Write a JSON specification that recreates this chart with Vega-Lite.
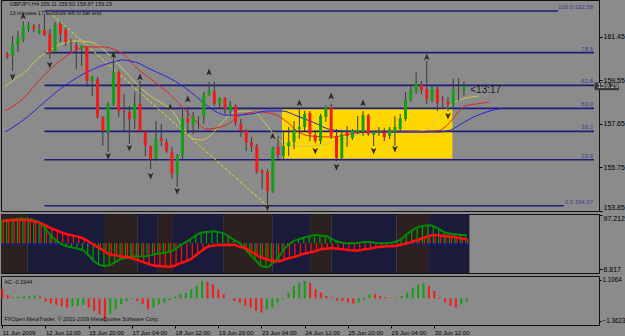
{
"$schema":"https://vega.github.io/schema/vega-lite/v6.json",
"background":"#8b8b8b",
"padding":{"left":-4,"top":-1,"right":0,"bottom":0},
"spacing":1,
"resolve":{"scale":{"color":"independent","shape":"independent"}},
"config":{"font":"Liberation Sans","view":{"stroke":"#101010","strokeWidth":1},
"axis":{"grid":false,"domain":false,"ticks":true,"tickColor":"#000","tickSize":3,"labelColor":"#000","labelFont":"Liberation Sans","labelFontSize":7,"labelPadding":1,"labelFlush":false,"labelOverlap":false,"labelBound":false}},
"datasets":{
"candles":[
{"i":0,"o":160.70,"h":160.79,"l":160.48,"c":160.57},
{"i":1,"o":160.61,"h":161.49,"l":159.96,"c":161.14},
{"i":2,"o":161.09,"h":161.71,"l":160.79,"c":161.44},
{"i":3,"o":161.36,"h":162.14,"l":161.22,"c":161.92},
{"i":4,"o":161.79,"h":162.10,"l":161.66,"c":161.97},
{"i":5,"o":161.92,"h":162.01,"l":161.66,"c":161.79},
{"i":6,"o":161.62,"h":162.01,"l":161.57,"c":161.75},
{"i":7,"o":161.75,"h":162.45,"l":161.49,"c":161.53},
{"i":8,"o":161.57,"h":161.79,"l":160.48,"c":160.74},
{"i":9,"o":160.79,"h":162.10,"l":160.70,"c":161.97},
{"i":10,"o":162.01,"h":162.10,"l":161.22,"c":161.57},
{"i":11,"o":161.75,"h":161.88,"l":161.05,"c":161.22},
{"i":12,"o":161.22,"h":161.36,"l":160.79,"c":161.18},
{"i":13,"o":161.09,"h":161.22,"l":160.04,"c":160.92},
{"i":14,"o":160.92,"h":161.09,"l":160.18,"c":161.05},
{"i":15,"o":161.01,"h":161.05,"l":159.26,"c":159.52},
{"i":16,"o":159.52,"h":159.74,"l":158.86,"c":159.70},
{"i":17,"o":159.61,"h":159.70,"l":157.86,"c":157.95},
{"i":18,"o":157.95,"h":157.99,"l":156.68,"c":157.34},
{"i":19,"o":157.29,"h":158.60,"l":156.42,"c":158.52},
{"i":20,"o":158.52,"h":160.79,"l":158.43,"c":159.91},
{"i":21,"o":159.91,"h":160.00,"l":157.95,"c":158.21},
{"i":22,"o":158.21,"h":158.95,"l":157.34,"c":158.17},
{"i":23,"o":158.17,"h":158.43,"l":156.77,"c":157.86},
{"i":24,"o":157.86,"h":159.04,"l":157.42,"c":158.52},
{"i":25,"o":158.52,"h":159.52,"l":157.29,"c":157.34},
{"i":26,"o":157.29,"h":157.34,"l":156.24,"c":156.68},
{"i":27,"o":156.68,"h":156.70,"l":155.67,"c":156.11},
{"i":28,"o":156.11,"h":157.77,"l":156.02,"c":157.03},
{"i":29,"o":157.03,"h":157.64,"l":156.68,"c":156.90},
{"i":30,"o":156.85,"h":156.99,"l":156.37,"c":156.46},
{"i":31,"o":156.42,"h":156.64,"l":155.24,"c":155.46},
{"i":32,"o":155.46,"h":156.33,"l":154.89,"c":156.24},
{"i":33,"o":156.24,"h":158.30,"l":156.11,"c":157.90},
{"i":34,"o":157.90,"h":158.38,"l":157.20,"c":157.69},
{"i":35,"o":157.60,"h":158.17,"l":157.20,"c":157.95},
{"i":36,"o":157.94,"h":157.99,"l":157.42,"c":157.96},
{"i":37,"o":157.95,"h":159.04,"l":157.64,"c":158.91},
{"i":38,"o":158.91,"h":159.48,"l":158.86,"c":159.13},
{"i":39,"o":159.08,"h":159.48,"l":158.43,"c":158.52},
{"i":40,"o":158.52,"h":158.82,"l":158.30,"c":158.78},
{"i":41,"o":158.78,"h":158.82,"l":158.08,"c":158.30},
{"i":42,"o":158.21,"h":158.65,"l":157.99,"c":158.47},
{"i":43,"o":158.43,"h":158.52,"l":157.55,"c":157.69},
{"i":44,"o":157.64,"h":157.86,"l":157.07,"c":157.34},
{"i":45,"o":157.34,"h":157.42,"l":156.46,"c":156.85},
{"i":46,"o":156.85,"h":157.07,"l":156.42,"c":156.68},
{"i":47,"o":156.68,"h":156.77,"l":155.46,"c":155.54},
{"i":48,"o":155.59,"h":155.67,"l":154.80,"c":155.50},
{"i":49,"o":155.54,"h":155.67,"l":154.06,"c":154.71},
{"i":50,"o":154.71,"h":156.64,"l":154.63,"c":156.59},
{"i":51,"o":156.64,"h":157.12,"l":156.11,"c":156.29},
{"i":52,"o":156.24,"h":157.34,"l":156.11,"c":156.68},
{"i":53,"o":156.68,"h":157.51,"l":156.24,"c":156.85},
{"i":54,"o":156.85,"h":157.77,"l":156.55,"c":157.42},
{"i":55,"o":157.42,"h":158.30,"l":156.99,"c":157.51},
{"i":56,"o":157.51,"h":158.21,"l":157.34,"c":158.08},
{"i":57,"o":158.12,"h":158.21,"l":156.90,"c":157.20},
{"i":58,"o":157.16,"h":157.29,"l":156.81,"c":156.90},
{"i":59,"o":156.90,"h":158.08,"l":156.77,"c":157.99},
{"i":60,"o":157.95,"h":158.43,"l":157.73,"c":158.38},
{"i":61,"o":158.38,"h":158.52,"l":156.99,"c":157.12},
{"i":62,"o":157.12,"h":157.42,"l":156.02,"c":156.15},
{"i":63,"o":156.15,"h":157.34,"l":156.07,"c":157.20},
{"i":64,"o":157.29,"h":157.55,"l":156.64,"c":157.12},
{"i":65,"o":157.03,"h":157.42,"l":156.94,"c":157.34},
{"i":66,"o":157.29,"h":157.99,"l":157.20,"c":157.38},
{"i":67,"o":157.29,"h":158.21,"l":157.12,"c":158.03},
{"i":68,"o":158.03,"h":158.08,"l":157.12,"c":157.20},
{"i":69,"o":157.16,"h":157.34,"l":156.68,"c":157.29},
{"i":70,"o":157.29,"h":157.51,"l":157.12,"c":157.34},
{"i":71,"o":157.25,"h":157.47,"l":156.90,"c":157.07},
{"i":72,"o":157.12,"h":157.51,"l":156.99,"c":157.42},
{"i":73,"o":157.29,"h":157.99,"l":156.68,"c":157.51},
{"i":74,"o":157.42,"h":158.08,"l":157.34,"c":157.90},
{"i":75,"o":157.86,"h":159.04,"l":157.77,"c":158.73},
{"i":76,"o":158.69,"h":159.39,"l":158.60,"c":159.13},
{"i":77,"o":159.08,"h":159.91,"l":158.95,"c":159.43},
{"i":78,"o":159.34,"h":159.52,"l":158.95,"c":159.13},
{"i":79,"o":159.17,"h":160.39,"l":158.52,"c":158.73},
{"i":80,"o":158.69,"h":159.30,"l":158.60,"c":159.21},
{"i":81,"o":159.17,"h":159.26,"l":158.21,"c":158.56},
{"i":82,"o":158.73,"h":158.86,"l":158.38,"c":158.69},
{"i":83,"o":158.60,"h":158.82,"l":158.21,"c":158.47},
{"i":84,"o":158.47,"h":159.61,"l":158.38,"c":159.17},
{"i":85,"o":159.17,"h":159.65,"l":158.65,"c":159.13},
{"i":86,"o":159.11,"h":159.50,"l":158.87,"c":159.29}
],
"ma":[
{"l":"lips","i":-0.4,"p":159.26},{"l":"lips","i":1.4,"p":159.61},{"l":"lips","i":3.3,"p":159.91},{"l":"lips","i":5.7,"p":160.48},{"l":"lips","i":8.3,"p":160.92},{"l":"lips","i":10.7,"p":161.18},{"l":"lips","i":13.1,"p":161.27},{"l":"lips","i":15.7,"p":161.22},{"l":"lips","i":17.5,"p":161.01},{"l":"lips","i":19.4,"p":160.61},{"l":"lips","i":21.2,"p":160.18},{"l":"lips","i":23.1,"p":159.70},{"l":"lips","i":24.9,"p":159.26},{"l":"lips","i":27.0,"p":158.86},{"l":"lips","i":28.8,"p":158.60},{"l":"lips","i":31.1,"p":158.21},{"l":"lips","i":33.3,"p":157.42},{"l":"lips","i":35.1,"p":156.99},{"l":"lips","i":36.6,"p":156.94},{"l":"lips","i":38.5,"p":157.20},{"l":"lips","i":40.7,"p":157.77},{"l":"lips","i":42.5,"p":158.12},{"l":"lips","i":44.9,"p":158.21},{"l":"lips","i":46.8,"p":158.12},{"l":"lips","i":48.7,"p":157.64},{"l":"lips","i":50.5,"p":157.12},{"l":"lips","i":52.4,"p":156.77},{"l":"lips","i":54.6,"p":156.68},{"l":"lips","i":57.0,"p":156.68},{"l":"lips","i":58.8,"p":156.72},{"l":"lips","i":61.2,"p":156.85},{"l":"lips","i":64.4,"p":157.07},{"l":"lips","i":69.4,"p":157.25},{"l":"lips","i":75.9,"p":157.29},{"l":"lips","i":78.8,"p":157.38},{"l":"lips","i":81.4,"p":157.95},{"l":"lips","i":83.5,"p":158.47},{"l":"lips","i":85.7,"p":158.73},{"l":"lips","i":88.8,"p":158.86},
{"l":"teeth","i":-0.4,"p":158.21},{"l":"teeth","i":3.3,"p":158.82},{"l":"teeth","i":5.7,"p":159.48},{"l":"teeth","i":8.8,"p":160.18},{"l":"teeth","i":12.0,"p":160.74},{"l":"teeth","i":14.9,"p":161.01},{"l":"teeth","i":18.1,"p":161.01},{"l":"teeth","i":19.9,"p":160.92},{"l":"teeth","i":21.8,"p":160.70},{"l":"teeth","i":24.6,"p":160.04},{"l":"teeth","i":27.0,"p":159.61},{"l":"teeth","i":30.1,"p":159.04},{"l":"teeth","i":33.3,"p":158.30},{"l":"teeth","i":35.7,"p":157.73},{"l":"teeth","i":37.5,"p":157.42},{"l":"teeth","i":39.4,"p":157.47},{"l":"teeth","i":41.2,"p":157.60},{"l":"teeth","i":44.0,"p":158.03},{"l":"teeth","i":47.2,"p":158.17},{"l":"teeth","i":50.1,"p":158.08},{"l":"teeth","i":52.7,"p":157.73},{"l":"teeth","i":54.6,"p":157.34},{"l":"teeth","i":57.0,"p":157.12},{"l":"teeth","i":61.2,"p":157.07},{"l":"teeth","i":64.4,"p":157.20},{"l":"teeth","i":68.7,"p":157.29},{"l":"teeth","i":77.4,"p":157.29},{"l":"teeth","i":81.1,"p":157.34},{"l":"teeth","i":82.9,"p":157.60},{"l":"teeth","i":84.8,"p":158.12},{"l":"teeth","i":86.2,"p":158.43},{"l":"teeth","i":88.5,"p":158.52},{"l":"teeth","i":90.7,"p":158.60},
{"l":"jaw","i":-0.4,"p":157.29},{"l":"jaw","i":3.3,"p":157.86},{"l":"jaw","i":7.0,"p":158.60},{"l":"jaw","i":10.7,"p":159.30},{"l":"jaw","i":14.4,"p":159.83},{"l":"jaw","i":18.1,"p":160.22},{"l":"jaw","i":19.9,"p":160.35},{"l":"jaw","i":21.8,"p":160.44},{"l":"jaw","i":23.1,"p":160.39},{"l":"jaw","i":24.6,"p":160.31},{"l":"jaw","i":26.4,"p":160.09},{"l":"jaw","i":30.1,"p":159.70},{"l":"jaw","i":33.3,"p":159.26},{"l":"jaw","i":35.7,"p":158.82},{"l":"jaw","i":37.5,"p":158.47},{"l":"jaw","i":39.4,"p":158.17},{"l":"jaw","i":41.2,"p":158.03},{"l":"jaw","i":43.1,"p":158.03},{"l":"jaw","i":45.9,"p":158.08},{"l":"jaw","i":49.0,"p":158.21},{"l":"jaw","i":51.8,"p":158.21},{"l":"jaw","i":54.6,"p":157.99},{"l":"jaw","i":57.5,"p":157.73},{"l":"jaw","i":61.2,"p":157.38},{"l":"jaw","i":67.5,"p":157.29},{"l":"jaw","i":81.1,"p":157.29},{"l":"jaw","i":83.5,"p":157.38},{"l":"jaw","i":86.1,"p":157.73},{"l":"jaw","i":87.9,"p":157.95},{"l":"jaw","i":90.3,"p":158.17},{"l":"jaw","i":93.5,"p":158.34}
],
"fr":[
{"i":3,"p":162.36,"d":"u"},{"i":20,"p":160.66,"d":"u"},{"i":25,"p":159.69,"d":"u"},{"i":30.7,"p":158.38,"d":"u"},{"i":34,"p":158.73,"d":"u"},{"i":38,"p":159.91,"d":"u"},{"i":50,"p":157.12,"d":"u"},{"i":55,"p":158.56,"d":"u"},{"i":61,"p":158.86,"d":"u"},{"i":67,"p":158.56,"d":"u"},{"i":79,"p":160.57,"d":"u"},
{"i":1,"p":159.70,"d":"d"},{"i":8,"p":160.22,"d":"d"},{"i":19,"p":156.24,"d":"d"},{"i":23,"p":156.59,"d":"d"},{"i":27,"p":155.37,"d":"d"},{"i":32,"p":154.71,"d":"d"},{"i":49,"p":153.99,"d":"d"},{"i":58,"p":156.46,"d":"d"},{"i":62,"p":155.76,"d":"d"},{"i":69,"p":156.46,"d":"d"},{"i":73,"p":156.55,"d":"d"},{"i":83,"p":157.99,"d":"d"}
],
"fib":[
{"lab":"100.0 162.58","p":162.58,"s":7,"e":103.7},{"lab":"78.6","p":160.76,"s":7,"e":110.5},{"lab":"61.8","p":159.33,"s":7,"e":110.5},{"lab":"50.0","p":158.325,"s":7,"e":110.5},{"lab":"38.2","p":157.32,"s":7,"e":110.5},{"lab":"23.6","p":156.08,"s":7,"e":110.5},{"lab":"0.0 154.07","p":154.07,"s":7,"e":104.8}
],
"osc":[
{"i":0,"g":88,"r":87},{"i":1,"g":89,"r":88},{"i":2,"g":90,"r":88.5},{"i":3,"g":90.5,"r":89},{"i":4,"g":91,"r":89},{"i":5,"g":90,"r":88.5},{"i":6,"g":88,"r":86},{"i":7,"g":84,"r":84},{"i":8,"g":74,"r":80},{"i":9,"g":63,"r":75},{"i":10,"g":55,"r":72},{"i":11,"g":48,"r":68},{"i":12,"g":45,"r":65},{"i":13,"g":43,"r":63},{"i":14,"g":41,"r":61},{"i":15,"g":38,"r":58},{"i":16,"g":30,"r":53},{"i":17,"g":20,"r":47},{"i":18,"g":14,"r":42},{"i":19,"g":12,"r":36},{"i":20,"g":14,"r":31},{"i":21,"g":19,"r":30},{"i":22,"g":24,"r":28},{"i":23,"g":26,"r":27},{"i":24,"g":28,"r":25},{"i":25,"g":28,"r":22},{"i":26,"g":28,"r":19},{"i":27,"g":29,"r":16},{"i":28,"g":31,"r":13},{"i":29,"g":33,"r":12},{"i":30,"g":34,"r":11.5},{"i":31,"g":36,"r":11},{"i":32,"g":40,"r":13},{"i":33,"g":47,"r":17},{"i":34,"g":52,"r":20},{"i":35,"g":58,"r":24},{"i":36,"g":64,"r":31},{"i":37,"g":68,"r":38},{"i":38,"g":69,"r":44},{"i":39,"g":70,"r":46},{"i":40,"g":69,"r":47},{"i":41,"g":66,"r":47},{"i":42,"g":61,"r":47},{"i":43,"g":55,"r":47},{"i":44,"g":50,"r":44},{"i":45,"g":40,"r":42},{"i":46,"g":30,"r":36},{"i":47,"g":21,"r":31},{"i":48,"g":12,"r":26},{"i":49,"g":10,"r":23},{"i":50,"g":16,"r":21},{"i":51,"g":24,"r":20},{"i":52,"g":38,"r":22},{"i":53,"g":47,"r":25},{"i":54,"g":54,"r":27},{"i":55,"g":57,"r":30},{"i":56,"g":60,"r":33},{"i":57,"g":62,"r":35},{"i":58,"g":64,"r":37},{"i":59,"g":63,"r":40},{"i":60,"g":62,"r":41},{"i":61,"g":57,"r":42},{"i":62,"g":53,"r":41},{"i":63,"g":51,"r":40},{"i":64,"g":50,"r":39},{"i":65,"g":50,"r":38},{"i":66,"g":51,"r":38},{"i":67,"g":52,"r":40},{"i":68,"g":52,"r":41},{"i":69,"g":51,"r":43},{"i":70,"g":50,"r":44},{"i":71,"g":50,"r":45},{"i":72,"g":51,"r":45},{"i":73,"g":53,"r":46},{"i":74,"g":58,"r":48},{"i":75,"g":66,"r":50},{"i":76,"g":72,"r":53},{"i":77,"g":77,"r":56},{"i":78,"g":79,"r":59},{"i":79,"g":80,"r":62},{"i":80,"g":78,"r":64},{"i":81,"g":73,"r":63},{"i":82,"g":68,"r":62},{"i":83,"g":66,"r":61},{"i":84,"g":65,"r":60},{"i":85,"g":64,"r":58},{"i":86,"g":64,"r":57}
],
"bands":[
{"a":-0.24,"b":4.7,"k":"b"},{"a":4.7,"b":19,"k":"n"},{"a":19,"b":25,"k":"b"},{"a":25,"b":28.8,"k":"n"},{"a":28.8,"b":31.6,"k":"b"},{"a":31.6,"b":40.9,"k":"n"},{"a":40.9,"b":50,"k":"b"},{"a":50,"b":57,"k":"n"},{"a":57,"b":61,"k":"b"},{"a":61,"b":73,"k":"n"},{"a":73,"b":79,"k":"b"},{"a":79,"b":86.5,"k":"n"}
],
"blue":[
{"i":0},{"i":1},{"i":2},{"i":3},{"i":4},{"i":5},{"i":6},{"i":7},{"i":8},{"i":9},{"i":10},{"i":11},{"i":12},{"i":13},{"i":14},{"i":15},{"i":16},{"i":17},{"i":43},{"i":44},{"i":45},{"i":46},{"i":47},{"i":48},{"i":49},{"i":50},{"i":63},{"i":74},{"i":75},{"i":76},{"i":77},{"i":78},{"i":79},{"i":80},{"i":81},{"i":82},{"i":83},{"i":84},{"i":85},{"i":86}
],
"ac":[
{"i":0,"v":0.54,"d":"r"},{"i":1,"v":0.20,"d":"r"},{"i":2,"v":0.06,"d":"g"},{"i":3,"v":0.08,"d":"g"},{"i":4,"v":0.12,"d":"g"},{"i":5,"v":0.14,"d":"g"},{"i":6,"v":0.18,"d":"g"},{"i":7,"v":0.10,"d":"r"},{"i":8,"v":-0.20,"d":"r"},{"i":9,"v":-0.30,"d":"r"},{"i":10,"v":-0.40,"d":"r"},{"i":11,"v":-0.48,"d":"r"},{"i":12,"v":-0.56,"d":"r"},{"i":13,"v":-0.50,"d":"g"},{"i":14,"v":-0.46,"d":"g"},{"i":15,"v":-0.40,"d":"g"},{"i":16,"v":-0.56,"d":"r"},{"i":17,"v":-0.76,"d":"r"},{"i":18,"v":-0.96,"d":"r"},{"i":19,"v":-1.36,"d":"r"},{"i":20,"v":-0.96,"d":"g"},{"i":21,"v":-0.66,"d":"g"},{"i":22,"v":-0.36,"d":"g"},{"i":23,"v":-0.16,"d":"g"},{"i":24,"v":-0.05,"d":"g"},{"i":25,"v":-0.16,"d":"r"},{"i":26,"v":-0.36,"d":"r"},{"i":27,"v":-0.66,"d":"r"},{"i":28,"v":-0.56,"d":"g"},{"i":29,"v":-0.36,"d":"g"},{"i":30,"v":-0.26,"d":"g"},{"i":31,"v":-0.12,"d":"g"},{"i":32,"v":0.10,"d":"g"},{"i":33,"v":0.24,"d":"g"},{"i":34,"v":0.34,"d":"g"},{"i":35,"v":0.54,"d":"g"},{"i":36,"v":0.74,"d":"g"},{"i":37,"v":1.06,"d":"g"},{"i":38,"v":1.00,"d":"r"},{"i":39,"v":0.84,"d":"r"},{"i":40,"v":0.54,"d":"r"},{"i":41,"v":0.24,"d":"r"},{"i":42,"v":0.02,"d":"r"},{"i":43,"v":-0.16,"d":"r"},{"i":44,"v":-0.26,"d":"r"},{"i":45,"v":-0.46,"d":"r"},{"i":46,"v":-0.56,"d":"r"},{"i":47,"v":-0.76,"d":"r"},{"i":48,"v":-0.86,"d":"r"},{"i":49,"v":-0.66,"d":"g"},{"i":50,"v":-0.56,"d":"g"},{"i":51,"v":-0.26,"d":"g"},{"i":52,"v":-0.06,"d":"g"},{"i":53,"v":0.34,"d":"g"},{"i":54,"v":0.74,"d":"g"},{"i":55,"v":0.94,"d":"g"},{"i":56,"v":1.04,"d":"g"},{"i":57,"v":0.94,"d":"r"},{"i":58,"v":0.54,"d":"r"},{"i":59,"v":0.34,"d":"r"},{"i":60,"v":0.14,"d":"r"},{"i":61,"v":0.04,"d":"r"},{"i":62,"v":-0.16,"d":"r"},{"i":63,"v":-0.16,"d":"r"},{"i":64,"v":-0.26,"d":"r"},{"i":65,"v":-0.32,"d":"r"},{"i":66,"v":-0.26,"d":"g"},{"i":67,"v":-0.10,"d":"g"},{"i":68,"v":0.24,"d":"g"},{"i":69,"v":0.24,"d":"r"},{"i":70,"v":0.14,"d":"r"},{"i":71,"v":0.08,"d":"r"},{"i":72,"v":0.02,"d":"r"},{"i":73,"v":0.04,"d":"g"},{"i":74,"v":0.14,"d":"g"},{"i":75,"v":0.34,"d":"g"},{"i":76,"v":0.64,"d":"g"},{"i":77,"v":0.84,"d":"g"},{"i":78,"v":0.90,"d":"g"},{"i":79,"v":0.74,"d":"r"},{"i":80,"v":0.44,"d":"r"},{"i":81,"v":0.05,"d":"r"},{"i":82,"v":-0.26,"d":"r"},{"i":83,"v":-0.46,"d":"r"},{"i":84,"v":-0.56,"d":"r"},{"i":85,"v":-0.36,"d":"g"},{"i":86,"v":-0.19,"d":"g"}
],
"texts":[
{"t":"GBPJPY,H4 159.11 159.50 158.87 159.29","i":0.4,"p":162.886},
{"t":"13 minutes 17 seconds left to bar end","i":0.4,"p":162.49}
]
},
"vconcat":[
{
"width":598,"height":211,
"layer":[
{"data":{"values":[{"i0":51.74,"i1":83.83,"p0":158.30,"p1":156.13}]},"mark":{"type":"rect","color":"#ffd700"},
 "encoding":{"x":{"field":"i0","type":"quantitative","scale":{"domain":[-0.24,110.5],"nice":false,"zero":false},"axis":null},"x2":{"field":"i1"},
 "y":{"field":"p0","type":"quantitative","scale":{"domain":[153.84,163.06],"nice":false,"zero":false},"axis":{"orient":"right","values":[162.40,161.45,160.50,159.55,158.60,157.65,156.70,155.75,154.80,153.85],"format":".2f","title":null,"labelBaseline":{"condition":{"test":"datum.value < 154","value":"bottom"},"value":"middle"}}},"y2":{"field":"p1"}}},
{"data":{"name":"fib"},"mark":{"type":"rule","color":"#1e1e78","strokeWidth":1.6},
 "encoding":{"x":{"field":"s","type":"quantitative","axis":null},"x2":{"field":"e"},"y":{"field":"p","type":"quantitative"}}},
{"data":{"name":"fib"},"mark":{"type":"text","align":"right","baseline":"bottom","dy":-1,"dx":-1,"fontSize":6,"color":"#3c3c8e"},
 "encoding":{"x":{"datum":110.5,"type":"quantitative","axis":null},"y":{"field":"p","type":"quantitative"},"text":{"field":"lab"}}},
{"data":{"values":[{"i":7.9,"p":162.54},{"i":49,"p":154.06}]},"mark":{"type":"line","color":"#e8e800","strokeDash":[3,2],"strokeWidth":1},
 "encoding":{"x":{"field":"i","type":"quantitative","axis":null},"y":{"field":"p","type":"quantitative"}}},
{"data":{"name":"ma"},"mark":{"type":"line","strokeWidth":1,"interpolate":"monotone","clip":true},
 "encoding":{"x":{"field":"i","type":"quantitative","axis":null},"y":{"field":"p","type":"quantitative"},"color":{"field":"l","type":"nominal","scale":{"domain":["jaw","teeth","lips"],"range":["#2424e0","#e02424","#c8cc50"]},"legend":null}}},
{"data":{"name":"candles"},"mark":{"type":"rule","color":"#3a3a3a","strokeWidth":1},
 "encoding":{"x":{"field":"i","type":"quantitative","axis":null},"y":{"field":"l","type":"quantitative"},"y2":{"field":"h"}}},
{"data":{"name":"candles"},"mark":{"type":"bar","width":3},
 "encoding":{"x":{"field":"i","type":"quantitative","axis":null},"y":{"field":"o","type":"quantitative"},"y2":{"field":"c"},"color":{"condition":{"test":"datum.c >= datum.o","value":"#14a014"},"value":"#f01c1c"}}},
{"data":{"name":"fr"},"mark":{"type":"point","filled":true,"color":"#2a2a2a","size":50,"opacity":1},
 "encoding":{"x":{"field":"i","type":"quantitative","axis":null},"y":{"field":"p","type":"quantitative"},"shape":{"field":"d","type":"nominal","scale":{"domain":["u","d"],"range":["M0,-1L0.8,0.9L0,0.45L-0.8,0.9Z","M0,1L0.8,-0.9L0,-0.45L-0.8,-0.9Z"]},"legend":null}}},
{"data":{"name":"texts"},"mark":{"type":"text","align":"left","baseline":"middle","fontSize":5.5,"color":"#111"},
 "encoding":{"x":{"field":"i","type":"quantitative","axis":null},"y":{"field":"p","type":"quantitative"},"text":{"field":"t"}}},
{"data":{"values":[{"t":"<13:17","i":87.2,"p":159.13}]},"mark":{"type":"text","align":"left","baseline":"middle","fontSize":10,"color":"#1a1a1a"},
 "encoding":{"x":{"field":"i","type":"quantitative","axis":null},"y":{"field":"p","type":"quantitative"},"text":{"field":"t"}}},
{"data":{"values":[{"a":110.6,"b":115.2,"p0":159.46,"p1":159.12}]},"mark":{"type":"rect","color":"#3a3a3a"},
 "encoding":{"x":{"field":"a","type":"quantitative","axis":null},"x2":{"field":"b"},"y":{"field":"p0","type":"quantitative"},"y2":{"field":"p1"}}},
{"data":{"values":[{"t":"159.29","i":111.1,"p":159.29}]},"mark":{"type":"text","align":"left","baseline":"middle","fontSize":7,"color":"#d8d8d8"},
 "encoding":{"x":{"field":"i","type":"quantitative","axis":null},"y":{"field":"p","type":"quantitative"},"text":{"field":"t"}}}
]
},
{
"width":598,"height":59,
"layer":[
{"data":{"name":"bands"},"mark":{"type":"rect"},
 "encoding":{"x":{"field":"a","type":"quantitative","scale":{"domain":[-0.24,110.5],"nice":false,"zero":false},"axis":null},"x2":{"field":"b"},
 "y":{"datum":98.8,"type":"quantitative","scale":{"domain":[0.5,98.8],"nice":false,"zero":false},"axis":{"orient":"right","values":[97.212,70,50,30,6.817],"labelExpr":"datum.value > 90 ? '97.212' : (datum.value < 10 ? '6.817' : format(datum.value, 'd'))","title":null,"labelBaseline":{"condition":{"test":"datum.value > 90","value":"top"},"value":"middle"}}},"y2":{"datum":0.5},
 "color":{"field":"k","type":"nominal","scale":{"domain":["n","b"],"range":["#1a1a3a","#2c2020"]},"legend":null}}},
{"data":{"name":"blue"},"mark":{"type":"rule","color":"#1010ff","strokeWidth":2},
 "encoding":{"x":{"field":"i","type":"quantitative","axis":null},"y":{"datum":50,"type":"quantitative"},"y2":{"datum":47}}},
{"data":{"name":"osc"},"mark":{"type":"rule","color":"#00a000","strokeWidth":1.2,"xOffset":-1},
 "encoding":{"x":{"field":"i","type":"quantitative","axis":null},"y":{"field":"g","type":"quantitative"},"y2":{"datum":50}}},
{"data":{"name":"osc"},"mark":{"type":"rule","color":"#ff1010","strokeWidth":1.2,"xOffset":1},
 "encoding":{"x":{"field":"i","type":"quantitative","axis":null},"y":{"field":"r","type":"quantitative"},"y2":{"datum":50}}},
{"data":{"name":"osc"},"mark":{"type":"line","color":"#008c00","strokeWidth":2,"interpolate":"monotone"},
 "encoding":{"x":{"field":"i","type":"quantitative","axis":null},"y":{"field":"g","type":"quantitative"}}},
{"data":{"name":"osc"},"mark":{"type":"line","color":"#ff1010","strokeWidth":2.5,"interpolate":"monotone"},
 "encoding":{"x":{"field":"i","type":"quantitative","axis":null},"y":{"field":"r","type":"quantitative"}}}
]
},
{
"width":598,"height":49,
"layer":[
{"data":{"name":"ac"},"mark":{"type":"rule","strokeWidth":2},
 "encoding":{"x":{"field":"i","type":"quantitative","scale":{"domain":[-0.24,110.5],"nice":false,"zero":false},
  "axis":{"orient":"bottom","values":[0,8,16,24,32,40,48,56,64,72,80],"labelExpr":"['11 Jun 2009','12 Jun 12:00','15 Jun 20:00','17 Jun 04:00','18 Jun 12:00','19 Jun 20:00','23 Jun 04:00','24 Jun 12:00','25 Jun 20:00','29 Jun 04:00','30 Jun 12:00'][round(datum.value/8)]","labelAlign":"left","labelFontSize":6,"labelPadding":1,"tickSize":3,"title":null}},
 "y":{"field":"v","type":"quantitative","scale":{"domain":[-1.61,1.343],"nice":false,"zero":false},"axis":{"orient":"right","values":[1.1064,0,-1.3623],"labelExpr":"datum.value == 0 ? '0.00' : format(datum.value, '.4f')","title":null,"labelFontSize":6.3,"tickSize":2}},
 "y2":{"datum":0},
 "color":{"field":"d","type":"nominal","scale":{"domain":["g","r"],"range":["#10a010","#f01c1c"]},"legend":null}}},
{"data":{"values":[{"t":"AC -0.1944","i":0.4,"v":0.98},{"t":"FXOpen MetaTrader, © 2001-2009 MetaQuotes Software Corp.","i":0.4,"v":-1.25}]},"mark":{"type":"text","align":"left","baseline":"middle","fontSize":5.5,"color":"#111"},
 "encoding":{"x":{"field":"i","type":"quantitative"},"y":{"field":"v","type":"quantitative"},"text":{"field":"t"}}}
]
}
]
}
